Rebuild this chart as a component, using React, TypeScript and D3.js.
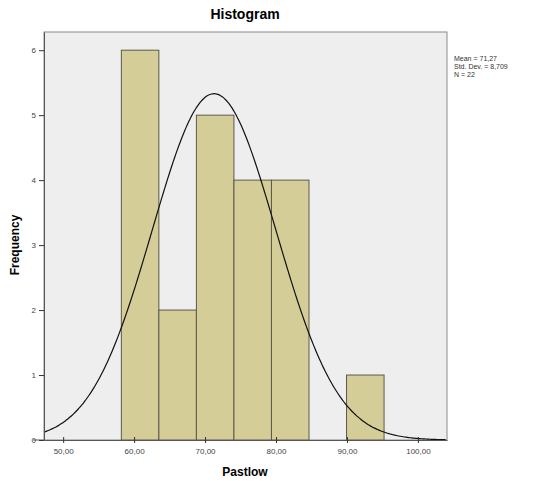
import { useEffect, useRef } from "react";
import * as d3 from "d3";

// bins
const binStart = 58.2;
const binWidth = 5.29;
const counts = [6, 2, 5, 4, 4, 0, 1];
const xTicks = [50, 60, 70, 80, 90, 100];
const yTicks = [0, 1, 2, 3, 4, 5, 6];
const stats = { mean: 71.27, sd: 8.71, n: 22 };
const statLines = ["Mean = 71,27", "Std. Dev. = 8,709", "N = 22"];

const W = 551;
const H = 481;

export default function App() {
  const ref = useRef<SVGSVGElement>(null);

  useEffect(() => {
    const svg = d3.select(ref.current);
    svg.selectAll("*").remove();

    const left = 44, right = 447, top = 32, bottom = 440;

    const x = d3.scaleLinear().domain([47.3, 104.1]).range([left, right]);
    const y = d3.scaleLinear().domain([0, 6.28]).range([bottom, top]);

    svg.append("rect").attr("width", W).attr("height", H).attr("fill", "#fff");

    svg
      .append("rect")
      .attr("x", left)
      .attr("y", top)
      .attr("width", right - left)
      .attr("height", bottom - top)
      .attr("fill", "#eeeeee")
      .attr("stroke", "#8a8a8a")
      .attr("stroke-width", 1);

    const bins = counts.map((c, i) => ({
      x0: binStart + i * binWidth,
      x1: binStart + (i + 1) * binWidth,
      c,
    }));

    svg
      .append("g")
      .selectAll("rect")
      .data(bins.filter((b) => b.c > 0))
      .enter()
      .append("rect")
      .attr("x", (d) => x(d.x0))
      .attr("y", (d) => y(d.c))
      .attr("width", (d) => x(d.x1) - x(d.x0))
      .attr("height", (d) => y(0) - y(d.c))
      .attr("fill", "#d4cd98")
      .attr("stroke", "#5a5a4a")
      .attr("stroke-width", 1);

    // normal curve
    const scale = (stats.n * binWidth) / (stats.sd * Math.sqrt(2 * Math.PI));
    const pts = d3.range(47.3, 104.1, 0.2).map((v) => [
      v,
      scale * Math.exp(-0.5 * ((v - stats.mean) / stats.sd) ** 2),
    ]);
    svg
      .append("path")
      .datum(pts)
      .attr("fill", "none")
      .attr("stroke", "#111")
      .attr("stroke-width", 1.2)
      .attr(
        "d",
        d3
          .line<number[]>()
          .x((d) => x(d[0]))
          .y((d) => y(d[1]))
          .curve(d3.curveBasis)
      );

    // axes
    const fmt = (v: number) => v.toFixed(2).replace(".", ",");
    const xa = svg
      .append("g")
      .attr("transform", `translate(0,${bottom})`)
      .call(d3.axisBottom(x).tickValues(xTicks).tickFormat((v) => fmt(+v)).tickSize(6).tickSizeOuter(0));
    xa.select(".domain").attr("stroke", "#555");
    xa.selectAll("line").attr("stroke", "#333").attr("transform", "translate(0,-3)");
    xa.selectAll("text").attr("font-family", "Arial, Liberation Sans, sans-serif").attr("font-size", 8).attr("fill", "#444").attr("dy", "0.6em");

    svg
      .append("line")
      .attr("x1", 33)
      .attr("x2", left)
      .attr("y1", bottom)
      .attr("y2", bottom)
      .attr("stroke", "#555");

    const ya = svg
      .append("g")
      .attr("transform", `translate(${left},0)`)
      .call(d3.axisLeft(y).tickValues(yTicks).tickFormat(d3.format("d")).tickSize(5).tickSizeOuter(0));
    ya.select(".domain").attr("stroke", "#555");
    ya.selectAll("line").attr("stroke", "#333");
    ya.selectAll("text").attr("font-family", "Arial, Liberation Sans, sans-serif").attr("font-size", 8).attr("fill", "#444");

    svg
      .append("text")
      .attr("x", 245)
      .attr("y", 19)
      .attr("text-anchor", "middle")
      .attr("font-family", "Arial, Liberation Sans, sans-serif")
      .attr("font-size", 14)
      .attr("font-weight", "bold")
      .text("Histogram");

    svg
      .append("text")
      .attr("x", 245)
      .attr("y", 476)
      .attr("text-anchor", "middle")
      .attr("font-family", "Arial, Liberation Sans, sans-serif")
      .attr("font-size", 12)
      .attr("font-weight", "bold")
      .text("Pastlow");

    svg
      .append("text")
      .attr("transform", "translate(19,245) rotate(-90)")
      .attr("text-anchor", "middle")
      .attr("font-family", "Arial, Liberation Sans, sans-serif")
      .attr("font-size", 12)
      .attr("font-weight", "bold")
      .text("Frequency");

    svg
      .append("g")
      .selectAll("text")
      .data(statLines)
      .enter()
      .append("text")
      .attr("x", 454)
      .attr("y", (_, i) => 61 + i * 8)
      .attr("font-family", "Arial, Liberation Sans, sans-serif")
      .attr("font-size", 7)
      .attr("fill", "#333")
      .text((d) => d);
  }, []);

  return (
    <svg
      ref={ref}
      width={W}
      height={H}
      style={{ position: "absolute", left: 0, top: 0, display: "block" }}
    />
  );
}
